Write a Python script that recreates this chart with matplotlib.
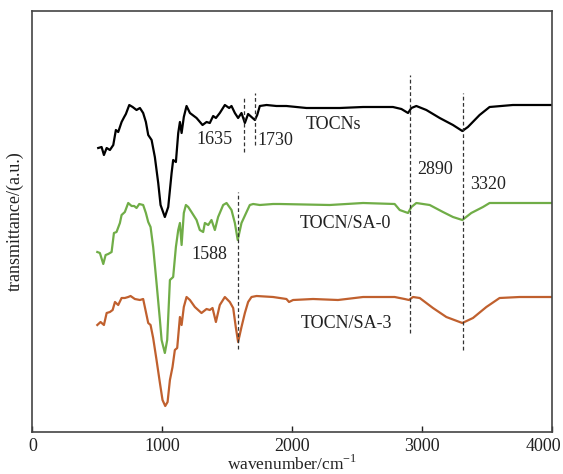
import matplotlib
matplotlib.use('Agg')
import matplotlib.pyplot as plt
import matplotlib.transforms as mtrans
import numpy as np

# FTIR spectra (wavenumber in cm-1, transmittance in a.u.)
tocn_wn = [506, 532, 550, 571, 596, 622, 642, 660, 686, 706, 719, 745, 771, 801, 827,
           852, 873, 891, 917, 942, 968, 986, 1019, 1045, 1071, 1083, 1104, 1122, 1135,
           1148, 1165, 1186, 1212, 1263, 1309, 1340, 1365, 1391, 1412, 1442, 1481, 1514,
           1532, 1558, 1583, 1609, 1635, 1660, 1686, 1712, 1730, 1750, 1802, 1878, 1955,
           2032, 2109, 2365, 2545, 2775, 2840, 2891, 2917, 2955, 3032, 3135, 3237, 3309,
           3352, 3442, 3519, 3698, 4000]
tocn_t = [284, 285, 277, 284, 282, 287, 302, 300, 310, 315, 318, 327, 325, 322, 324,
          319, 310, 297, 292, 275, 249, 227, 215, 225, 259, 272, 270, 299, 310,
          299, 315, 326, 319, 314, 307, 310, 309, 316, 314, 319, 327, 324,
          326, 319, 314, 319, 309, 318, 315, 312, 317, 326, 327, 326, 326,
          325, 324, 324, 325, 325, 323, 319, 324, 326, 322, 314, 307, 301,
          305, 317, 325, 327, 327]

sa0_wn = [499, 519, 545, 563, 583, 609, 627, 647, 673, 686, 711, 737, 763, 783, 801,
          822, 852, 873, 891, 909, 929, 955, 981, 994, 1019, 1037, 1058, 1083, 1104,
          1122, 1135, 1148, 1165, 1181, 1199, 1224, 1263, 1288, 1314, 1327, 1353, 1378,
          1404, 1429, 1468, 1494, 1532, 1558, 1580, 1609, 1648, 1673, 1699, 1750, 1852,
          1904, 2288, 2545, 2788, 2827, 2891, 2917, 2955, 3058, 3160, 3237, 3309, 3378,
          3468, 3519, 4000]
sa0_t = [180, 179, 168, 177, 178, 180, 199, 200, 209, 217, 220, 229, 226, 226, 224,
         228, 227, 219, 210, 205, 185, 149, 112, 92, 79, 92, 152, 155, 185,
         202, 209, 187, 219, 227, 225, 220, 212, 202, 200, 209, 207, 212,
         202, 215, 227, 229, 222, 209, 192, 209, 220, 227, 228, 227, 228,
         228, 227, 229, 228, 222, 219, 225, 229, 227, 220, 215, 212, 219,
         225, 229, 229]

sa3_wn = [499, 524, 550, 571, 596, 617, 635, 660, 686, 711, 737, 755, 788, 827, 852,
          865, 891, 909, 929, 955, 981, 1001, 1022, 1040, 1058, 1078, 1096, 1114, 1135,
          1148, 1165, 1186, 1212, 1250, 1301, 1340, 1365, 1386, 1412, 1442, 1481, 1519,
          1545, 1565, 1583, 1609, 1635, 1660, 1686, 1725, 1852, 1955, 1975, 2006, 2160,
          2352, 2545, 2788, 2865, 2898, 2929, 2981, 3083, 3186, 3309, 3391, 3494, 3596,
          3750, 4000]
sa3_t = [107, 110, 107, 119, 120, 122, 130, 127, 134, 134, 135, 136, 133, 132, 133,
         125, 109, 107, 94, 72, 49, 32, 26, 30, 52, 65, 82, 84, 115,
         107, 125, 135, 132, 125, 119, 123, 122, 124, 110, 127, 135, 130,
         124, 105, 90, 105, 119, 130, 135, 136, 135, 133, 130, 132, 133,
         132, 135, 135, 133, 132, 135, 134, 124, 115, 109, 114, 125, 134,
         135, 135]

# marked bands: label, drawn position, dashed line span (a.u.)
peak_labels = ['1588', '1635', '1730', '2890', '3320']
peak_wn = [1580, 1632, 1712, 2904, 3314]
peak_lo = [83, 280, 287, 99, 82]
peak_hi = [240, 335, 339, 357, 339]

plt.rcParams['font.family'] = ['Liberation Serif', 'DejaVu Serif']
plt.rcParams['mathtext.fontset'] = 'custom'
plt.rcParams['mathtext.rm'] = 'Liberation Serif'

fig = plt.figure(figsize=(5.63, 4.74), dpi=100)
ax = fig.add_axes([0.0577, 0.0886, 0.9229, 0.8882])

ax.plot(tocn_wn, tocn_t, color='#000000', lw=1.6)
ax.plot(sa0_wn, sa0_t, color='#70AD47', lw=1.6)
ax.plot(sa3_wn, sa3_t, color='#C0602E', lw=1.6)

for wn, lo, hi in zip(peak_wn, peak_lo, peak_hi):
    ax.plot([wn, wn], [lo, hi], color='#333333', lw=0.9, dashes=(3, 2))

# annotations
fs = 13
tc = '#222222'
ax.text(1404, 292, '1635', fontsize=fs, ha='center', va='center', color=tc)
ax.text(1873, 291, '1730', fontsize=fs, ha='center', va='center', color=tc)
ax.text(1358, 178, '1588', fontsize=fs, ha='center', va='center', color=tc)
ax.text(3096, 262, '2890', fontsize=fs, ha='center', va='center', color=tc)
ax.text(3504, 247, '3320', fontsize=fs, ha='center', va='center', color=tc)
ax.text(2319, 307, 'TOCNs', fontsize=fs, ha='center', va='center', color=tc)
ax.text(2412, 209, 'TOCN/SA-0', fontsize=fs, ha='center', va='center', color=tc)
ax.text(2419, 109, 'TOCN/SA-3', fontsize=fs, ha='center', va='center', color=tc)

ax.set_xlim(0, 4000)
ax.set_ylim(0, 421)
ax.set_xticks([0, 1000, 2000, 3000, 4000])
ax.set_yticks([])
ax.tick_params(axis='x', direction='in', length=4, width=1, labelsize=13,
               colors=tc, pad=4)
for s in ax.spines.values():
    s.set_color('#444444')
    s.set_linewidth(1.2)

# last tick label sits a bit inside the figure edge
last = ax.get_xticklabels()[-1]
last.set_transform(last.get_transform() + mtrans.ScaledTranslation(-9 / 100, 0, fig.dpi_scale_trans))

ax.set_xlabel('wavenumber/cm$^{-1}$', fontsize=12.5, color=tc, labelpad=0)
ax.set_ylabel('transmittance/(a.u.)', fontsize=13, color=tc, labelpad=6)

plt.savefig('out.png', dpi=100)
